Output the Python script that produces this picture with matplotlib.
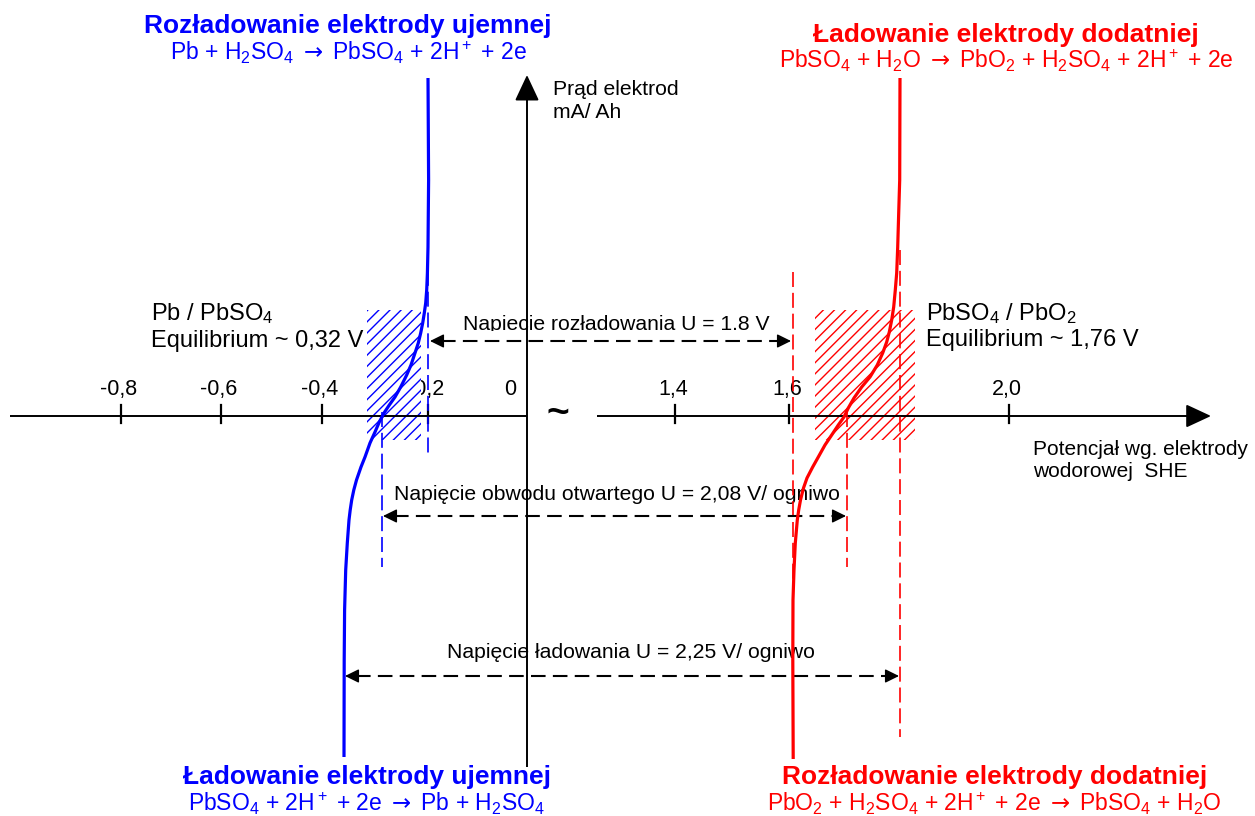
import matplotlib
matplotlib.use('Agg')
import matplotlib.pyplot as plt
from matplotlib.patches import Rectangle

plt.rcParams['font.family'] = ['Liberation Sans', 'DejaVu Sans']
plt.rcParams['mathtext.fontset'] = 'custom'
plt.rcParams['mathtext.rm'] = 'Liberation Sans'
plt.rcParams['mathtext.it'] = 'Liberation Sans:italic'
plt.rcParams['mathtext.bf'] = 'Liberation Sans:bold'
plt.rcParams['mathtext.sf'] = 'DejaVu Sans'
plt.rcParams['hatch.linewidth'] = 1.0

BLUE = '#0000ff'
RED = '#ff0000'

# ---------------- data (diagram coordinates) ----------------
# negative electrode (Pb / PbSO4) polarisation curve
neg_curve_x = [428, 428.6, 428.3, 428, 427.4, 426.7, 425.7, 424.3, 422.7, 420.7, 418.3, 415, 411,
               406.7, 400.7, 395, 389.3, 384, 379.3, 375, 370, 365, 361, 356.5, 353.8, 351.7,
               350.2, 349, 347.3, 345.7, 344.6, 344.2, 344]
neg_curve_y = [78, 180, 213, 247, 273, 290, 303, 313, 323, 333, 343, 353, 365,
               375, 387, 397, 405, 413, 422, 432, 443, 457, 467, 480, 490, 500,
               510, 520, 543, 570, 610, 660, 757]
# positive electrode (PbSO4 / PbO2) polarisation curve
pos_curve_x = [900, 899.7, 898.7, 897.7, 896.7, 895.3, 893.7, 891.7, 889.3, 886.7, 882.7, 877.3,
               870, 861.7, 854, 848.3, 844, 838.3, 831.7, 825, 818.3, 812.7, 807, 803.5, 800.5,
               798.7, 797.3, 795.3, 794, 793, 792.8, 793.2]
pos_curve_y = [78, 180, 213, 247, 273, 290, 307, 320, 332, 342, 353, 365,
               377, 387, 398, 408, 417, 425, 435, 445, 457, 467, 478, 488, 500,
               510, 520, 543, 570, 600, 660, 759]

# potential axis ticks
tick_pos = [121, 221, 322, 428, 675, 789, 1009]
tick_labels = ['-0,8', '-0,6', '-0,4', '-0,2', '1,4', '1,6', '2,0']
zero_label = '0'
zero_label_x = 510

# equilibrium zones (x0, x1) and their vertical extent
neg_zone = (367, 421)
pos_zone = (815, 915)
zone_y = (310, 440)

# dashed guide lines: (x, y_top, y_bottom, colour)
guides = [(428, 250, 456, BLUE), (382, 412, 567, BLUE),
          (793, 272, 600, RED), (847, 412, 567, RED), (900, 250, 737, RED)]

# voltage dimension arrows: (x_left, x_right, y, label, label_x, label_y)
dims = [
    (430, 791, 341, 'Napiecie rozładowania U = 1.8 V', 463, 330),
    (383, 846, 516, 'Napięcie obwodu otwartego U = 2,08 V/ ogniwo', 394, 500),
    (345, 899, 676, 'Napięcie ładowania U = 2,25 V/ ogniwo', 447, 658),
]

AXIS_Y = 416
AXIS_X = 527

fig = plt.figure(figsize=(12.55, 8.16), dpi=100)
ax = fig.add_axes([0, 0, 1, 1])
ax.set_xlim(0, 1255)
ax.set_ylim(816, 0)
ax.axis('off')

# ---------------- tick labels ----------------
for x, lab in zip(tick_pos, tick_labels):
    ax.text(x - 2, 395, lab, ha='center', va='baseline', fontsize=15.5, zorder=1)
ax.text(zero_label_x, 395, zero_label, ha='center', va='baseline', fontsize=15.5, zorder=1)

# ---------------- hatched zones ----------------
for (x0, x1), col in [(neg_zone, BLUE), (pos_zone, RED)]:
    ax.add_patch(Rectangle((x0, zone_y[0]), x1 - x0, zone_y[1] - zone_y[0],
                           facecolor='white', edgecolor=col, hatch='///', lw=0, zorder=2))

# ---------------- axes ----------------
lw_ax = 1.4
ax.plot([10, AXIS_X], [AXIS_Y, AXIS_Y], color='black', lw=lw_ax, zorder=3, solid_capstyle='butt')
ax.plot([597, 1195], [AXIS_Y, AXIS_Y], color='black', lw=lw_ax, zorder=3, solid_capstyle='butt')
ax.annotate('', xy=(1211, AXIS_Y), xytext=(1190, AXIS_Y),
            arrowprops=dict(arrowstyle='-|>,head_length=1.55,head_width=0.72',
                            fc='black', ec='black', lw=lw_ax, shrinkA=0, shrinkB=0), zorder=3)
ax.plot([AXIS_X, AXIS_X], [767, 95], color='black', lw=lw_ax, zorder=3, solid_capstyle='butt')
ax.annotate('', xy=(AXIS_X, 75), xytext=(AXIS_X, 97),
            arrowprops=dict(arrowstyle='-|>,head_length=1.6,head_width=0.75',
                            fc='black', ec='black', lw=lw_ax, shrinkA=0, shrinkB=0), zorder=3)
for x in tick_pos:
    ax.plot([x, x], [405, 423], color='black', lw=1.6, zorder=3)
ax.text(558, 414, '~', ha='center', va='center', fontsize=28, fontweight='bold', zorder=3)

# ---------------- guide lines ----------------
for x, y0, y1, col in guides:
    ax.plot([x, x], [y0, y1], color=col, lw=1.2, dashes=(9, 3.5), zorder=4)

# ---------------- dimension arrows ----------------
for x0, x1, y, lab, lx, ly in dims:
    ax.text(lx, ly, lab, ha='left', va='baseline', fontsize=15.2, zorder=2.5)
    ax.plot([x0 + 11, x1 - 11], [y, y], color='black', lw=1.5, dashes=(7, 3.5), zorder=4)
    for tip, tail in [(x0, x0 + 13), (x1, x1 - 13)]:
        ax.annotate('', xy=(tip, y), xytext=(tail, y),
                    arrowprops=dict(arrowstyle='-|>,head_length=0.85,head_width=0.42',
                                    fc='black', ec='black', lw=1.0, shrinkA=0, shrinkB=0), zorder=4)
# clipped lower part of the first label (as in original)
ax.add_patch(Rectangle((455, 330.6), 320, 7, facecolor='white', edgecolor='none', zorder=2.6))

# ---------------- polarisation curves ----------------
ax.plot(neg_curve_x, neg_curve_y, color=BLUE, lw=2.3, zorder=5,
        solid_joinstyle='round', solid_capstyle='butt')
ax.plot(pos_curve_x, pos_curve_y, color=RED, lw=2.3, zorder=5,
        solid_joinstyle='round', solid_capstyle='butt')

# ---------------- annotations ----------------
ax.text(553, 95, 'Prąd elektrod', fontsize=15.2, va='baseline')
ax.text(553, 118, 'mA/ Ah', fontsize=15.2, va='baseline')
ax.text(1033, 455, 'Potencjał wg. elektrody', fontsize=15, va='baseline')
ax.text(1033, 477, 'wodorowej  SHE', fontsize=15, va='baseline')

ax.text(151, 320, r'Pb / PbSO$\mathregular{_4}$', fontsize=17, va='baseline')
ax.text(151, 346.5, 'Equilibrium ~ 0,32 V', fontsize=17, va='baseline')
ax.text(926, 320, r'PbSO$\mathregular{_4}$ / PbO$\mathregular{_2}$', fontsize=17, va='baseline')
ax.text(926, 346, 'Equilibrium ~ 1,76 V', fontsize=17, va='baseline')

ARR = r'$\mathsf{\rightarrow}$'
TITLE_FS = 19
EQ_FS = 16.5
ax.text(348, 33, 'Rozładowanie elektrody ujemnej', color=BLUE, fontsize=TITLE_FS,
        fontweight='bold', ha='center', va='baseline')
ax.text(348, 60, r'Pb + H$\mathregular{_2}$SO$\mathregular{_4}$ ' + ARR +
        r' PbSO$\mathregular{_4}$ + 2H$\mathregular{^+}$ + 2e',
        color=BLUE, fontsize=EQ_FS, ha='center', va='baseline')
ax.text(1006, 42, 'Ładowanie elektrody dodatniej', color=RED, fontsize=TITLE_FS,
        fontweight='bold', ha='center', va='baseline')
ax.text(1006, 68, r'PbSO$\mathregular{_4}$ + H$\mathregular{_2}$O ' + ARR +
        r' PbO$\mathregular{_2}$ + H$\mathregular{_2}$SO$\mathregular{_4}$ + 2H$\mathregular{^+}$ + 2e',
        color=RED, fontsize=EQ_FS, ha='center', va='baseline')
ax.text(367, 784, 'Ładowanie elektrody ujemnej', color=BLUE, fontsize=TITLE_FS,
        fontweight='bold', ha='center', va='baseline')
ax.text(366, 811, r'PbSO$\mathregular{_4}$ + 2H$\mathregular{^+}$ + 2e ' + ARR +
        r' Pb + H$\mathregular{_2}$SO$\mathregular{_4}$',
        color=BLUE, fontsize=EQ_FS, ha='center', va='baseline')
ax.text(995, 784, 'Rozładowanie elektrody dodatniej', color=RED, fontsize=TITLE_FS,
        fontweight='bold', ha='center', va='baseline')
ax.text(994, 811, r'PbO$\mathregular{_2}$ + H$\mathregular{_2}$SO$\mathregular{_4}$ + 2H$\mathregular{^+}$ + 2e ' + ARR +
        r' PbSO$\mathregular{_4}$ + H$\mathregular{_2}$O',
        color=RED, fontsize=EQ_FS, ha='center', va='baseline')

fig.savefig('out.png', dpi=100)
